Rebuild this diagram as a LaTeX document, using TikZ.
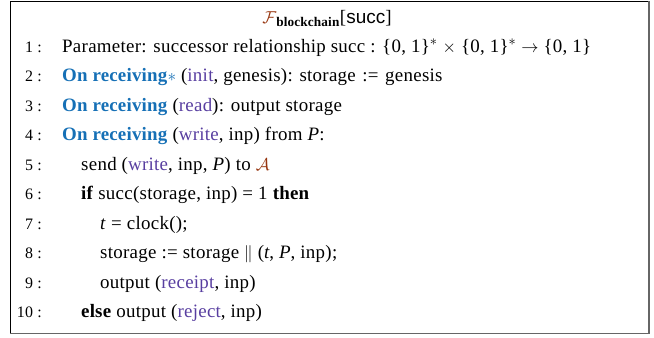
\documentclass[tikz,border=0pt]{standalone}
\usepackage{fontspec}
\setmainfont{Liberation Serif}[LetterSpace=1.5,BoldFeatures={LetterSpace=1}]
\setsansfont{Liberation Sans}
\usepackage{amsmath}
\definecolor{kwblue}{RGB}{22,112,182}
\definecolor{msgpurple}{RGB}{88,62,160}
\definecolor{partybrown}{RGB}{150,52,14}
\newcommand{\onrecv}{\textcolor{kwblue}{\textbf{On receiving}}}
\newcommand{\msg}[1]{\textcolor{msgpurple}{#1}}
\newcommand{\bits}{\{0, 1\}}
\begin{document}
\begin{tikzpicture}[x=1bp,y=-1bp,
  lineno/.style={anchor=base east,inner sep=0,font=\fontsize{16}{19}\selectfont},
  code/.style={anchor=base west,inner sep=0,font=\fontsize{19}{22}\selectfont},
  heading/.style={anchor=base,inner sep=0,font=\fontsize{19}{22}\selectfont}]
\useasboundingbox (0,0) rectangle (654,337);
% frame of the functionality box
\draw[line width=0.8pt] (10,1) rectangle (649,333);
\draw[black!60,line width=1.6pt] (649,1) -- (649,333.4) -- (10,333.4);
% heading
\node[heading] (title) at (327,23)
  {$\textcolor{partybrown}{\mathcal{F}}_{\textbf{blockchain}}$[\textsf{succ}]};
% line numbers
\foreach \i [count=\k from 0] in {1,...,10}
  \node[lineno] (n\i) at (42,52+29.5*\k) {\i\ :};
% code lines
\node[code] (l1) at (62,52)
  {Parameter: successor relationship succ : \bits$^*$ $\times$ \bits$^*$ $\rightarrow$ \bits};
\node[code] (l2) at (62,81.5)
  {\onrecv\textcolor{kwblue}{$\ast$} (\msg{init}, genesis): storage\kern1.5pt\ :=\kern1.5pt\ genesis};
\node[code] (l3) at (62,111)
  {\onrecv\ (\msg{read}): output storage};
\node[code] (l4) at (62,140.5)
  {\onrecv\ (\msg{write}, inp) from \textit{P}:};
\node[code] (l5) at (81,170)
  {send (\msg{write}, inp, \textit{P}) to $\textcolor{partybrown}{\mathcal{A}}$};
\node[code] (l6) at (81,199.5)
  {\textbf{if} succ(storage, inp) = 1 \textbf{then}};
\node[code] (l7) at (100,229)
  {\textit{t} = clock();};
\node[code] (l8) at (100,258.5)
  {storage := storage $\|$ (\textit{t}, \textit{P}, inp);};
\node[code] (l9) at (100,288)
  {output (\msg{receipt}, inp)};
\node[code] (l10) at (81,317.5)
  {\textbf{else} output (\msg{reject}, inp)};
\end{tikzpicture}
\end{document}
